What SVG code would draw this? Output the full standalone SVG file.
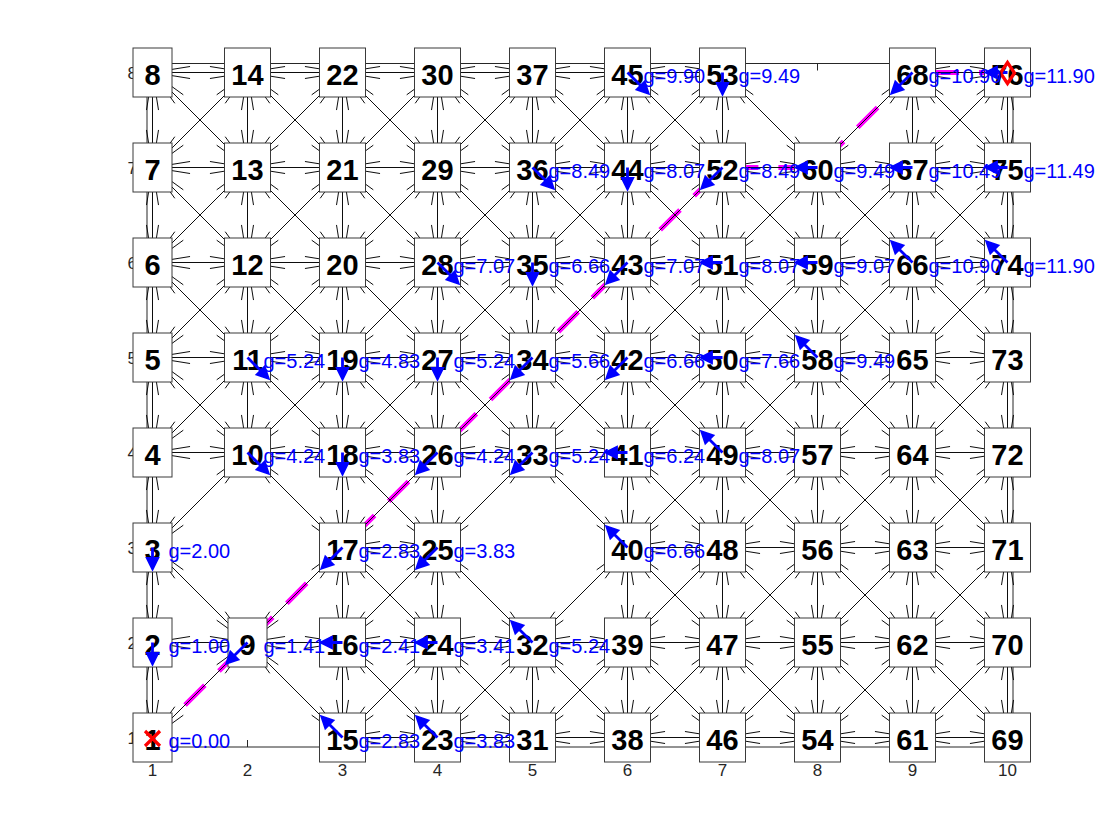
<svg xmlns="http://www.w3.org/2000/svg" xmlns:xlink="http://www.w3.org/1999/xlink" width="1120" height="840" viewBox="0 0 1120 840">
<style>
.ax{fill:none;stroke:#262626;stroke-width:1}
.tk{font-family:"Liberation Sans",Arial,sans-serif;font-size:17px;fill:#262626}
.tx{text-anchor:middle}
.ty{text-anchor:end}
.e{fill:none;stroke:#000;stroke-width:0.95}
.nb{fill:#fff;stroke:#3a3a3a;stroke-width:1}
.nt{font-family:"Liberation Sans",Arial,sans-serif;font-weight:bold;font-size:29px;text-anchor:middle;fill:#000}
.g{font-family:"Liberation Sans",Arial,sans-serif;font-size:20px;fill:#0000ff}
.pa{fill:#0000ff;stroke:#0000ff;stroke-width:2.8}
.pth{fill:none;stroke:#ff00ff;stroke-width:5;stroke-dasharray:28 20;stroke-dashoffset:2}
.mk{fill:none;stroke:#ff0000;stroke-width:3.2}
</style>
<defs>
<path id="R" d="M0,0H47.5M0,0L37.56,-6M0,0L37.56,6"/>
<path id="L" d="M0,0H-47.5M0,0L-37.56,-6M0,0L-37.56,6"/>
<path id="D" d="M0,0V47.5M0,0L-6,37.56M0,0L6,37.56"/>
<path id="U" d="M0,0V-47.5M0,0L-6,-37.56M0,0L6,-37.56"/>
<path id="DR" d="M0,0L47.5,47.5M0,0L30.8,22.3M0,0L22.3,30.8"/>
<path id="DL" d="M0,0L-47.5,47.5M0,0L-30.8,22.3M0,0L-22.3,30.8"/>
<path id="UL" d="M0,0L-47.5,-47.5M0,0L-30.8,-22.3M0,0L-22.3,-30.8"/>
<path id="UR" d="M0,0L47.5,-47.5M0,0L30.8,-22.3M0,0L22.3,-30.8"/>
<g id="A8"><use href="#R"/><use href="#D"/><use href="#L"/><use href="#U"/><use href="#DR"/><use href="#DL"/><use href="#UL"/><use href="#UR"/></g>
<g id="T5"><use href="#R"/><use href="#D"/><use href="#L"/><use href="#DR"/><use href="#DL"/></g>
<g id="B5"><use href="#R"/><use href="#L"/><use href="#U"/><use href="#UL"/><use href="#UR"/></g>
<g id="L5"><use href="#R"/><use href="#D"/><use href="#U"/><use href="#DR"/><use href="#UR"/></g>
<g id="R5"><use href="#D"/><use href="#L"/><use href="#U"/><use href="#DL"/><use href="#UL"/></g>
<path id="po" d="M0,0H14M21,0L11,-5L11,5Z"/>
<path id="pg" d="M0,0H21M29,0L19,-5L19,5Z"/>
</defs>
<rect width="1120" height="840" fill="#fff"/>
<g id="axes">
<rect class="ax" x="147" y="63.5" width="866" height="683.5"/>
<path class="ax" d="M152.5,747v-7M247.5,747v-7M342.5,747v-7M437.5,747v-7M532.5,747v-7M627.5,747v-7M722.5,747v-7M817.5,747v-7M912.5,747v-7M1007.5,747v-7M152.5,63.5v7M247.5,63.5v7M342.5,63.5v7M437.5,63.5v7M532.5,63.5v7M627.5,63.5v7M722.5,63.5v7M817.5,63.5v7M912.5,63.5v7M1007.5,63.5v7M147,737.5h7M147,642.5h7M147,547.5h7M147,452.5h7M147,357.5h7M147,262.5h7M147,167.5h7M147,72.5h7M1013,737.5h-7M1013,642.5h-7M1013,547.5h-7M1013,452.5h-7M1013,357.5h-7M1013,262.5h-7M1013,167.5h-7M1013,72.5h-7"/>
<g class="tk tx">
<text x="152.5" y="776">1</text><text x="247.5" y="776">2</text><text x="342.5" y="776">3</text><text x="437.5" y="776">4</text><text x="532.5" y="776">5</text><text x="627.5" y="776">6</text><text x="722.5" y="776">7</text><text x="817.5" y="776">8</text><text x="912.5" y="776">9</text><text x="1007.5" y="776">10</text>
</g>
<g class="tk ty">
<text x="137" y="743.5">1</text><text x="137" y="648.5">2</text><text x="137" y="553.5">3</text><text x="137" y="458.5">4</text><text x="137" y="363.5">5</text><text x="137" y="268.5">6</text><text x="137" y="173.5">7</text><text x="137" y="78.5">8</text>
</g>
</g>
<g id="path">
<polyline class="pth" points="152.5,737.5 247.5,642.5 342.5,547.5 437.5,452.5 532.5,357.5 627.5,262.5 722.5,167.5 817.5,167.5 912.5,72.5 1007.5,72.5"/>
</g>
<g id="connectors" class="e">
<g transform="translate(152.5,737.5)"><use href="#U"/><use href="#UR"/></g>
<g transform="translate(152.5,642.5)"><use href="#R"/><use href="#D"/><use href="#U"/></g>
<g transform="translate(152.5,547.5)"><use href="#D"/><use href="#U"/><use href="#DR"/><use href="#UR"/></g>
<g transform="translate(152.5,452.5)"><use href="#R"/><use href="#D"/><use href="#U"/><use href="#UR"/></g>
<use href="#L5" x="152.5" y="357.5"/><use href="#L5" x="152.5" y="262.5"/><use href="#L5" x="152.5" y="167.5"/>
<g transform="translate(152.5,72.5)"><use href="#R"/><use href="#D"/><use href="#DR"/></g>
<g transform="translate(247.5,642.5)"><use href="#R"/><use href="#L"/><use href="#DR"/><use href="#DL"/><use href="#UL"/><use href="#UR"/></g>
<g transform="translate(247.5,452.5)"><use href="#R"/><use href="#L"/><use href="#U"/><use href="#DR"/><use href="#DL"/><use href="#UL"/><use href="#UR"/></g>
<use href="#A8" x="247.5" y="357.5"/><use href="#A8" x="247.5" y="262.5"/><use href="#A8" x="247.5" y="167.5"/>
<use href="#T5" x="247.5" y="72.5"/>
<g transform="translate(342.5,737.5)"><use href="#R"/><use href="#U"/><use href="#UL"/><use href="#UR"/></g>
<g transform="translate(342.5,642.5)"><use href="#R"/><use href="#D"/><use href="#L"/><use href="#U"/><use href="#DR"/><use href="#UR"/></g>
<g transform="translate(342.5,547.5)"><use href="#R"/><use href="#D"/><use href="#U"/><use href="#DR"/><use href="#DL"/><use href="#UL"/><use href="#UR"/></g>
<g transform="translate(342.5,452.5)"><use href="#R"/><use href="#D"/><use href="#L"/><use href="#U"/><use href="#DR"/><use href="#UL"/><use href="#UR"/></g>
<use href="#A8" x="342.5" y="357.5"/><use href="#A8" x="342.5" y="262.5"/><use href="#A8" x="342.5" y="167.5"/>
<use href="#T5" x="342.5" y="72.5"/>
<use href="#B5" x="437.5" y="737.5"/>
<g transform="translate(437.5,642.5)"><use href="#R"/><use href="#D"/><use href="#L"/><use href="#U"/><use href="#DR"/><use href="#DL"/><use href="#UL"/></g>
<g transform="translate(437.5,547.5)"><use href="#D"/><use href="#L"/><use href="#U"/><use href="#DR"/><use href="#DL"/><use href="#UL"/><use href="#UR"/></g>
<g transform="translate(437.5,452.5)"><use href="#R"/><use href="#D"/><use href="#L"/><use href="#U"/><use href="#DL"/><use href="#UL"/><use href="#UR"/></g>
<use href="#A8" x="437.5" y="357.5"/><use href="#A8" x="437.5" y="262.5"/><use href="#A8" x="437.5" y="167.5"/>
<use href="#T5" x="437.5" y="72.5"/>
<use href="#B5" x="532.5" y="737.5"/>
<g transform="translate(532.5,642.5)"><use href="#R"/><use href="#D"/><use href="#L"/><use href="#DR"/><use href="#DL"/><use href="#UL"/><use href="#UR"/></g>
<g transform="translate(532.5,452.5)"><use href="#R"/><use href="#L"/><use href="#U"/><use href="#DR"/><use href="#DL"/><use href="#UL"/><use href="#UR"/></g>
<use href="#A8" x="532.5" y="357.5"/><use href="#A8" x="532.5" y="262.5"/><use href="#A8" x="532.5" y="167.5"/>
<use href="#T5" x="532.5" y="72.5"/>
<use href="#B5" x="627.5" y="737.5"/>
<g transform="translate(627.5,642.5)"><use href="#R"/><use href="#D"/><use href="#L"/><use href="#U"/><use href="#DR"/><use href="#DL"/><use href="#UR"/></g>
<g transform="translate(627.5,547.5)"><use href="#R"/><use href="#D"/><use href="#U"/><use href="#DR"/><use href="#DL"/><use href="#UL"/><use href="#UR"/></g>
<g transform="translate(627.5,452.5)"><use href="#R"/><use href="#D"/><use href="#L"/><use href="#U"/><use href="#DR"/><use href="#UL"/><use href="#UR"/></g>
<use href="#A8" x="627.5" y="357.5"/><use href="#A8" x="627.5" y="262.5"/><use href="#A8" x="627.5" y="167.5"/>
<use href="#T5" x="627.5" y="72.5"/>
<use href="#B5" x="722.5" y="737.5"/>
<use href="#A8" x="722.5" y="642.5"/><use href="#A8" x="722.5" y="547.5"/><use href="#A8" x="722.5" y="452.5"/><use href="#A8" x="722.5" y="357.5"/><use href="#A8" x="722.5" y="262.5"/>
<g transform="translate(722.5,167.5)"><use href="#R"/><use href="#D"/><use href="#L"/><use href="#U"/><use href="#DR"/><use href="#DL"/><use href="#UL"/></g>
<g transform="translate(722.5,72.5)"><use href="#D"/><use href="#L"/><use href="#DR"/><use href="#DL"/></g>
<use href="#B5" x="817.5" y="737.5"/>
<use href="#A8" x="817.5" y="642.5"/><use href="#A8" x="817.5" y="547.5"/><use href="#A8" x="817.5" y="452.5"/><use href="#A8" x="817.5" y="357.5"/><use href="#A8" x="817.5" y="262.5"/>
<g transform="translate(817.5,167.5)"><use href="#R"/><use href="#D"/><use href="#L"/><use href="#DR"/><use href="#DL"/><use href="#UL"/><use href="#UR"/></g>
<use href="#B5" x="912.5" y="737.5"/>
<use href="#A8" x="912.5" y="642.5"/><use href="#A8" x="912.5" y="547.5"/><use href="#A8" x="912.5" y="452.5"/><use href="#A8" x="912.5" y="357.5"/><use href="#A8" x="912.5" y="262.5"/>
<g transform="translate(912.5,167.5)"><use href="#R"/><use href="#D"/><use href="#L"/><use href="#U"/><use href="#DR"/><use href="#DL"/><use href="#UR"/></g>
<g transform="translate(912.5,72.5)"><use href="#R"/><use href="#D"/><use href="#DR"/><use href="#DL"/></g>
<g transform="translate(1007.5,737.5)"><use href="#L"/><use href="#U"/><use href="#UL"/></g>
<use href="#R5" x="1007.5" y="642.5"/><use href="#R5" x="1007.5" y="547.5"/><use href="#R5" x="1007.5" y="452.5"/><use href="#R5" x="1007.5" y="357.5"/><use href="#R5" x="1007.5" y="262.5"/><use href="#R5" x="1007.5" y="167.5"/>
<g transform="translate(1007.5,72.5)"><use href="#D"/><use href="#L"/><use href="#DL"/></g>
</g>
<g id="nodes">
<g id="n1"><rect class="nb" x="133" y="713" width="39" height="49"/><text class="nt" x="152.5" y="750">1</text></g>
<g id="n2"><rect class="nb" x="133" y="618" width="39" height="49"/><text class="nt" x="152.5" y="655">2</text></g>
<g id="n3"><rect class="nb" x="133" y="523" width="39" height="49"/><text class="nt" x="152.5" y="560">3</text></g>
<g id="n4"><rect class="nb" x="133" y="428" width="39" height="49"/><text class="nt" x="152.5" y="465">4</text></g>
<g id="n5"><rect class="nb" x="133" y="333" width="39" height="49"/><text class="nt" x="152.5" y="370">5</text></g>
<g id="n6"><rect class="nb" x="133" y="238" width="39" height="49"/><text class="nt" x="152.5" y="275">6</text></g>
<g id="n7"><rect class="nb" x="133" y="143" width="39" height="49"/><text class="nt" x="152.5" y="180">7</text></g>
<g id="n8"><rect class="nb" x="133" y="48" width="39" height="49"/><text class="nt" x="152.5" y="85">8</text></g>
<g id="n9"><rect class="nb" x="228" y="618" width="39" height="49"/><text class="nt" x="247.5" y="655">9</text></g>
<g id="n10"><rect class="nb" x="224.5" y="428" width="46" height="49"/><text class="nt" x="247.5" y="465">10</text></g>
<g id="n11"><rect class="nb" x="224.5" y="333" width="46" height="49"/><text class="nt" x="247.5" y="370">11</text></g>
<g id="n12"><rect class="nb" x="224.5" y="238" width="46" height="49"/><text class="nt" x="247.5" y="275">12</text></g>
<g id="n13"><rect class="nb" x="224.5" y="143" width="46" height="49"/><text class="nt" x="247.5" y="180">13</text></g>
<g id="n14"><rect class="nb" x="224.5" y="48" width="46" height="49"/><text class="nt" x="247.5" y="85">14</text></g>
<g id="n15"><rect class="nb" x="319.5" y="713" width="46" height="49"/><text class="nt" x="342.5" y="750">15</text></g>
<g id="n16"><rect class="nb" x="319.5" y="618" width="46" height="49"/><text class="nt" x="342.5" y="655">16</text></g>
<g id="n17"><rect class="nb" x="319.5" y="523" width="46" height="49"/><text class="nt" x="342.5" y="560">17</text></g>
<g id="n18"><rect class="nb" x="319.5" y="428" width="46" height="49"/><text class="nt" x="342.5" y="465">18</text></g>
<g id="n19"><rect class="nb" x="319.5" y="333" width="46" height="49"/><text class="nt" x="342.5" y="370">19</text></g>
<g id="n20"><rect class="nb" x="319.5" y="238" width="46" height="49"/><text class="nt" x="342.5" y="275">20</text></g>
<g id="n21"><rect class="nb" x="319.5" y="143" width="46" height="49"/><text class="nt" x="342.5" y="180">21</text></g>
<g id="n22"><rect class="nb" x="319.5" y="48" width="46" height="49"/><text class="nt" x="342.5" y="85">22</text></g>
<g id="n23"><rect class="nb" x="414.5" y="713" width="46" height="49"/><text class="nt" x="437.5" y="750">23</text></g>
<g id="n24"><rect class="nb" x="414.5" y="618" width="46" height="49"/><text class="nt" x="437.5" y="655">24</text></g>
<g id="n25"><rect class="nb" x="414.5" y="523" width="46" height="49"/><text class="nt" x="437.5" y="560">25</text></g>
<g id="n26"><rect class="nb" x="414.5" y="428" width="46" height="49"/><text class="nt" x="437.5" y="465">26</text></g>
<g id="n27"><rect class="nb" x="414.5" y="333" width="46" height="49"/><text class="nt" x="437.5" y="370">27</text></g>
<g id="n28"><rect class="nb" x="414.5" y="238" width="46" height="49"/><text class="nt" x="437.5" y="275">28</text></g>
<g id="n29"><rect class="nb" x="414.5" y="143" width="46" height="49"/><text class="nt" x="437.5" y="180">29</text></g>
<g id="n30"><rect class="nb" x="414.5" y="48" width="46" height="49"/><text class="nt" x="437.5" y="85">30</text></g>
<g id="n31"><rect class="nb" x="509.5" y="713" width="46" height="49"/><text class="nt" x="532.5" y="750">31</text></g>
<g id="n32"><rect class="nb" x="509.5" y="618" width="46" height="49"/><text class="nt" x="532.5" y="655">32</text></g>
<g id="n33"><rect class="nb" x="509.5" y="428" width="46" height="49"/><text class="nt" x="532.5" y="465">33</text></g>
<g id="n34"><rect class="nb" x="509.5" y="333" width="46" height="49"/><text class="nt" x="532.5" y="370">34</text></g>
<g id="n35"><rect class="nb" x="509.5" y="238" width="46" height="49"/><text class="nt" x="532.5" y="275">35</text></g>
<g id="n36"><rect class="nb" x="509.5" y="143" width="46" height="49"/><text class="nt" x="532.5" y="180">36</text></g>
<g id="n37"><rect class="nb" x="509.5" y="48" width="46" height="49"/><text class="nt" x="532.5" y="85">37</text></g>
<g id="n38"><rect class="nb" x="604.5" y="713" width="46" height="49"/><text class="nt" x="627.5" y="750">38</text></g>
<g id="n39"><rect class="nb" x="604.5" y="618" width="46" height="49"/><text class="nt" x="627.5" y="655">39</text></g>
<g id="n40"><rect class="nb" x="604.5" y="523" width="46" height="49"/><text class="nt" x="627.5" y="560">40</text></g>
<g id="n41"><rect class="nb" x="604.5" y="428" width="46" height="49"/><text class="nt" x="627.5" y="465">41</text></g>
<g id="n42"><rect class="nb" x="604.5" y="333" width="46" height="49"/><text class="nt" x="627.5" y="370">42</text></g>
<g id="n43"><rect class="nb" x="604.5" y="238" width="46" height="49"/><text class="nt" x="627.5" y="275">43</text></g>
<g id="n44"><rect class="nb" x="604.5" y="143" width="46" height="49"/><text class="nt" x="627.5" y="180">44</text></g>
<g id="n45"><rect class="nb" x="604.5" y="48" width="46" height="49"/><text class="nt" x="627.5" y="85">45</text></g>
<g id="n46"><rect class="nb" x="699.5" y="713" width="46" height="49"/><text class="nt" x="722.5" y="750">46</text></g>
<g id="n47"><rect class="nb" x="699.5" y="618" width="46" height="49"/><text class="nt" x="722.5" y="655">47</text></g>
<g id="n48"><rect class="nb" x="699.5" y="523" width="46" height="49"/><text class="nt" x="722.5" y="560">48</text></g>
<g id="n49"><rect class="nb" x="699.5" y="428" width="46" height="49"/><text class="nt" x="722.5" y="465">49</text></g>
<g id="n50"><rect class="nb" x="699.5" y="333" width="46" height="49"/><text class="nt" x="722.5" y="370">50</text></g>
<g id="n51"><rect class="nb" x="699.5" y="238" width="46" height="49"/><text class="nt" x="722.5" y="275">51</text></g>
<g id="n52"><rect class="nb" x="699.5" y="143" width="46" height="49"/><text class="nt" x="722.5" y="180">52</text></g>
<g id="n53"><rect class="nb" x="699.5" y="48" width="46" height="49"/><text class="nt" x="722.5" y="85">53</text></g>
<g id="n54"><rect class="nb" x="794.5" y="713" width="46" height="49"/><text class="nt" x="817.5" y="750">54</text></g>
<g id="n55"><rect class="nb" x="794.5" y="618" width="46" height="49"/><text class="nt" x="817.5" y="655">55</text></g>
<g id="n56"><rect class="nb" x="794.5" y="523" width="46" height="49"/><text class="nt" x="817.5" y="560">56</text></g>
<g id="n57"><rect class="nb" x="794.5" y="428" width="46" height="49"/><text class="nt" x="817.5" y="465">57</text></g>
<g id="n58"><rect class="nb" x="794.5" y="333" width="46" height="49"/><text class="nt" x="817.5" y="370">58</text></g>
<g id="n59"><rect class="nb" x="794.5" y="238" width="46" height="49"/><text class="nt" x="817.5" y="275">59</text></g>
<g id="n60"><rect class="nb" x="794.5" y="143" width="46" height="49"/><text class="nt" x="817.5" y="180">60</text></g>
<g id="n61"><rect class="nb" x="889.5" y="713" width="46" height="49"/><text class="nt" x="912.5" y="750">61</text></g>
<g id="n62"><rect class="nb" x="889.5" y="618" width="46" height="49"/><text class="nt" x="912.5" y="655">62</text></g>
<g id="n63"><rect class="nb" x="889.5" y="523" width="46" height="49"/><text class="nt" x="912.5" y="560">63</text></g>
<g id="n64"><rect class="nb" x="889.5" y="428" width="46" height="49"/><text class="nt" x="912.5" y="465">64</text></g>
<g id="n65"><rect class="nb" x="889.5" y="333" width="46" height="49"/><text class="nt" x="912.5" y="370">65</text></g>
<g id="n66"><rect class="nb" x="889.5" y="238" width="46" height="49"/><text class="nt" x="912.5" y="275">66</text></g>
<g id="n67"><rect class="nb" x="889.5" y="143" width="46" height="49"/><text class="nt" x="912.5" y="180">67</text></g>
<g id="n68"><rect class="nb" x="889.5" y="48" width="46" height="49"/><text class="nt" x="912.5" y="85">68</text></g>
<g id="n69"><rect class="nb" x="984.5" y="713" width="46" height="49"/><text class="nt" x="1007.5" y="750">69</text></g>
<g id="n70"><rect class="nb" x="984.5" y="618" width="46" height="49"/><text class="nt" x="1007.5" y="655">70</text></g>
<g id="n71"><rect class="nb" x="984.5" y="523" width="46" height="49"/><text class="nt" x="1007.5" y="560">71</text></g>
<g id="n72"><rect class="nb" x="984.5" y="428" width="46" height="49"/><text class="nt" x="1007.5" y="465">72</text></g>
<g id="n73"><rect class="nb" x="984.5" y="333" width="46" height="49"/><text class="nt" x="1007.5" y="370">73</text></g>
<g id="n74"><rect class="nb" x="984.5" y="238" width="46" height="49"/><text class="nt" x="1007.5" y="275">74</text></g>
<g id="n75"><rect class="nb" x="984.5" y="143" width="46" height="49"/><text class="nt" x="1007.5" y="180">75</text></g>
<g id="n76"><rect class="nb" x="984.5" y="48" width="46" height="49"/><text class="nt" x="1007.5" y="85">76</text></g>
</g>
<g id="parents" class="pa">
<use href="#po" transform="translate(152.5,642.5) rotate(90)"/>
<use href="#po" transform="translate(152.5,547.5) rotate(90)"/>
<use href="#pg" transform="translate(247.5,642.5) rotate(135)"/>
<use href="#pg" transform="translate(247.5,452.5) rotate(45)"/>
<use href="#pg" transform="translate(247.5,357.5) rotate(45)"/>
<use href="#pg" transform="translate(342.5,737.5) rotate(225)"/>
<use href="#po" transform="translate(342.5,642.5) rotate(180)"/>
<use href="#pg" transform="translate(342.5,547.5) rotate(135)"/>
<use href="#po" transform="translate(342.5,452.5) rotate(90)"/>
<use href="#po" transform="translate(342.5,357.5) rotate(90)"/>
<use href="#pg" transform="translate(437.5,737.5) rotate(225)"/>
<use href="#po" transform="translate(437.5,642.5) rotate(180)"/>
<use href="#pg" transform="translate(437.5,547.5) rotate(135)"/>
<use href="#pg" transform="translate(437.5,452.5) rotate(135)"/>
<use href="#po" transform="translate(437.5,357.5) rotate(90)"/>
<use href="#pg" transform="translate(437.5,262.5) rotate(45)"/>
<use href="#pg" transform="translate(532.5,642.5) rotate(225)"/>
<use href="#pg" transform="translate(532.5,452.5) rotate(135)"/>
<use href="#pg" transform="translate(532.5,357.5) rotate(135)"/>
<use href="#po" transform="translate(532.5,262.5) rotate(90)"/>
<use href="#pg" transform="translate(532.5,167.5) rotate(45)"/>
<use href="#pg" transform="translate(627.5,547.5) rotate(225)"/>
<use href="#po" transform="translate(627.5,452.5) rotate(180)"/>
<use href="#pg" transform="translate(627.5,357.5) rotate(135)"/>
<use href="#pg" transform="translate(627.5,262.5) rotate(135)"/>
<use href="#po" transform="translate(627.5,167.5) rotate(90)"/>
<use href="#pg" transform="translate(627.5,72.5) rotate(45)"/>
<use href="#pg" transform="translate(722.5,452.5) rotate(225)"/>
<use href="#po" transform="translate(722.5,357.5) rotate(180)"/>
<use href="#po" transform="translate(722.5,262.5) rotate(180)"/>
<use href="#pg" transform="translate(722.5,167.5) rotate(135)"/>
<use href="#po" transform="translate(722.5,72.5) rotate(90)"/>
<use href="#pg" transform="translate(817.5,357.5) rotate(225)"/>
<use href="#po" transform="translate(817.5,262.5) rotate(180)"/>
<use href="#po" transform="translate(817.5,167.5) rotate(180)"/>
<use href="#pg" transform="translate(912.5,262.5) rotate(225)"/>
<use href="#po" transform="translate(912.5,167.5) rotate(180)"/>
<use href="#pg" transform="translate(912.5,72.5) rotate(135)"/>
<use href="#pg" transform="translate(1007.5,262.5) rotate(225)"/>
<use href="#po" transform="translate(1007.5,167.5) rotate(180)"/>
<use href="#po" transform="translate(1007.5,72.5) rotate(180)"/>
</g>
<g id="markers" class="mk">
<path d="M145,731L160,746M160,731L145,746"/>
<path d="M1007.5,62.5L1014.5,73L1007.5,83.5L1000.5,73Z"/>
</g>
<g id="gvals" class="g">
<text x="168.5" y="747.5">g=0.00</text>
<text x="168.5" y="652.5">g=1.00</text>
<text x="168.5" y="557.5">g=2.00</text>
<text x="263.5" y="652.5">g=1.41</text>
<text x="263.5" y="462.5">g=4.24</text>
<text x="263.5" y="367.5">g=5.24</text>
<text x="358.5" y="747.5">g=2.83</text>
<text x="358.5" y="652.5">g=2.41</text>
<text x="358.5" y="557.5">g=2.83</text>
<text x="358.5" y="462.5">g=3.83</text>
<text x="358.5" y="367.5">g=4.83</text>
<text x="453.5" y="747.5">g=3.83</text>
<text x="453.5" y="652.5">g=3.41</text>
<text x="453.5" y="557.5">g=3.83</text>
<text x="453.5" y="462.5">g=4.24</text>
<text x="453.5" y="367.5">g=5.24</text>
<text x="453.5" y="272.5">g=7.07</text>
<text x="548.5" y="652.5">g=5.24</text>
<text x="548.5" y="462.5">g=5.24</text>
<text x="548.5" y="367.5">g=5.66</text>
<text x="548.5" y="272.5">g=6.66</text>
<text x="548.5" y="177.5">g=8.49</text>
<text x="643.5" y="557.5">g=6.66</text>
<text x="643.5" y="462.5">g=6.24</text>
<text x="643.5" y="367.5">g=6.66</text>
<text x="643.5" y="272.5">g=7.07</text>
<text x="643.5" y="177.5">g=8.07</text>
<text x="643.5" y="82.5">g=9.90</text>
<text x="738.5" y="462.5">g=8.07</text>
<text x="738.5" y="367.5">g=7.66</text>
<text x="738.5" y="272.5">g=8.07</text>
<text x="738.5" y="177.5">g=8.49</text>
<text x="738.5" y="82.5">g=9.49</text>
<text x="833.5" y="367.5">g=9.49</text>
<text x="833.5" y="272.5">g=9.07</text>
<text x="833.5" y="177.5">g=9.49</text>
<text x="928.5" y="272.5">g=10.90</text>
<text x="928.5" y="177.5">g=10.49</text>
<text x="928.5" y="82.5">g=10.90</text>
<text x="1023.5" y="272.5">g=11.90</text>
<text x="1023.5" y="177.5">g=11.49</text>
<text x="1023.5" y="82.5">g=11.90</text>
</g>
</svg>
